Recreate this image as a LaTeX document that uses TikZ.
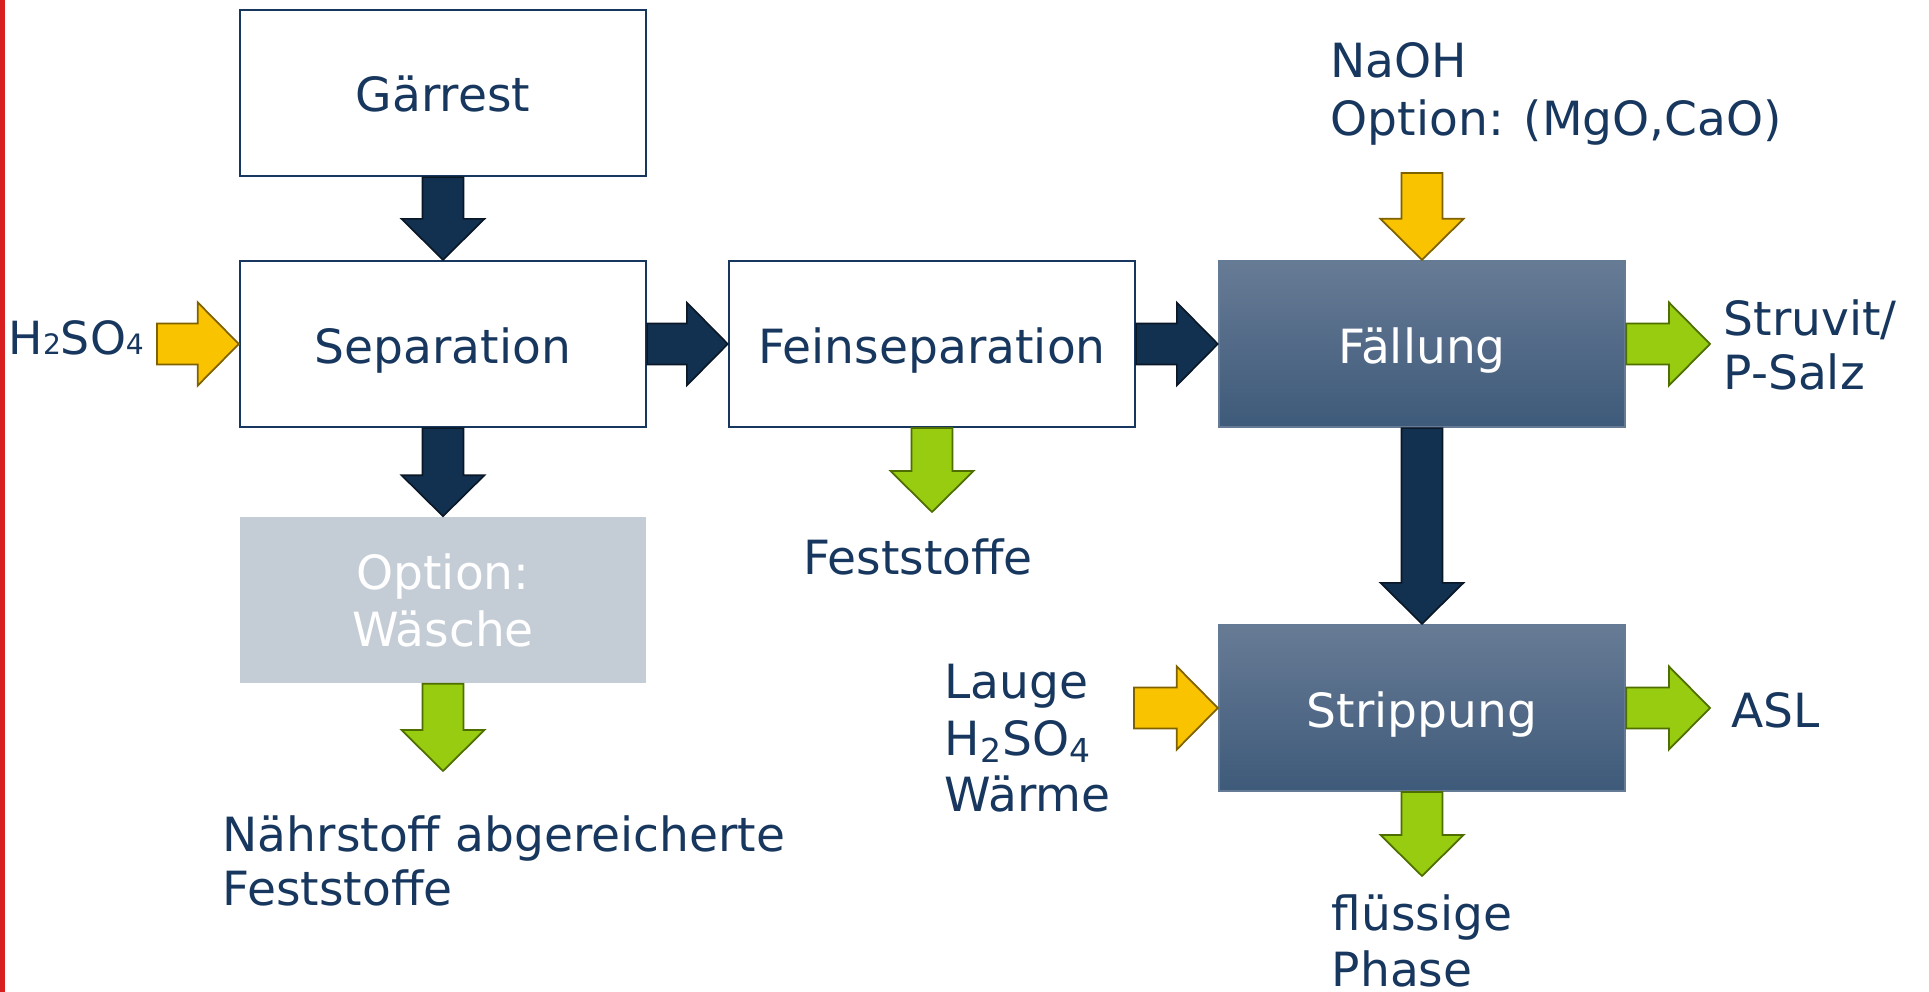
\documentclass[tikz,border=0pt]{standalone}
\usepackage{fontspec}
\setmainfont{DejaVu Sans}
\usetikzlibrary{calc}
\definecolor{navy}{HTML}{17375E}
\definecolor{arrdark}{HTML}{12304F}
\definecolor{arrdarkline}{HTML}{0A1726}
\definecolor{arryellow}{HTML}{F9C300}
\definecolor{arryellowline}{HTML}{7F6200}
\definecolor{arrgreen}{HTML}{97CC10}
\definecolor{arrgreenline}{HTML}{4F6E00}
\definecolor{stagetop}{HTML}{677B95}
\definecolor{stagebot}{HTML}{3E5A7A}
\definecolor{optgray}{HTML}{C4CCD6}
\definecolor{sidered}{HTML}{D71F1F}
\tikzset{
  flow/.style={to path={
    ($(\tikztotarget)!0.41cm!(\tikztostart)$) coordinate (ah)
    ($(\tikztostart)!0.205cm!90:(\tikztotarget)$) -- ($(ah)!0.205cm!90:(\tikztotarget)$)
    -- ($(ah)!0.415cm!90:(\tikztotarget)$) -- (\tikztotarget)
    -- ($(ah)!0.415cm!-90:(\tikztotarget)$) -- ($(ah)!0.205cm!-90:(\tikztotarget)$)
    -- ($(\tikztostart)!0.205cm!-90:(\tikztotarget)$) -- cycle}}
}
\begin{document}
\begin{tikzpicture}[x=0.01cm,y=-0.01cm,
  every node/.style={font=\fontsize{13.4}{16.2}\selectfont, text=navy},
  stepsize/.style={minimum width=4.06cm, minimum height=1.66cm, inner sep=0},
  box/.style={stepsize, draw=navy, line width=0.6pt, fill=white, text height=0.5cm, text depth=0.12cm},
  stage/.style={box, draw=stagebot!80!white, top color=stagetop, bottom color=stagebot, text=white},
  optbox/.style={stepsize, fill=optgray, text=white, align=center},
  lbl/.style={anchor=base west, align=left, inner sep=0},
  darkarrow/.style={fill=arrdark, draw=arrdarkline, line width=0.45pt},
  yellowarrow/.style={fill=arryellow, draw=arryellowline, line width=0.5pt},
  greenarrow/.style={fill=arrgreen, draw=arrgreenline, line width=0.5pt}]
  \useasboundingbox (0,0) rectangle (1929,992);
  \fill[sidered] (0,0) rectangle (5,992);

  % process steps
  \node[box] (gaer) at (443,93) {Gärrest};
  \node[box] (sep) at (443,344) {Separation};
  \node[box] (fein) at (932,344) {Feinseparation};
  \node[stage] (fall) at (1422,344) {Fällung};
  \node[optbox] (wash) at (443,600) {Option:\\Wäsche};
  \node[stage] (strip) at (1422,708) {Strippung};

  % inputs and outputs (base = last line)
  \node[lbl, font=\fontsize{13}{15}\selectfont] (acid) at (8,355) {H{\fontsize{8}{9}\selectfont 2}SO{\fontsize{8}{9}\selectfont 4}};
  \node[lbl, font=\fontsize{13.4}{16.6}\selectfont] (naoh) at (1330,136) {NaOH\\Option: (MgO,CaO)};
  \node[lbl] (lauge) at (944,812) {Lauge\\H\textsubscript{2}SO\textsubscript{4}\\Wärme};
  \node[anchor=base, inner sep=0] (solids) at (918,575) {Feststoffe};
  \node[lbl, font=\fontsize{13.4}{15.6}\selectfont] (lean) at (222,906) {Nährstoff abgereicherte\\Feststoffe};
  \node[lbl, font=\fontsize{13.4}{15.6}\selectfont] (struvit) at (1723,390) {Struvit/\\P-Salz};
  \node[lbl] (asl) at (1731,728) {ASL};
  \node[lbl, font=\fontsize{13.4}{16.2}\selectfont] (liquid) at (1331,987) {flüssige\\Phase};

  \coordinate (inH) at (157,344);
  \coordinate (inNa) at (1422,173);
  \coordinate (inLa) at (1134,708);
  \coordinate (outW) at (443,771);
  \coordinate (outF) at (932,512);
  \coordinate (outS) at (1710,344);
  \coordinate (outA) at (1710,708);
  \coordinate (outP) at (1422,876);

  \foreach \a/\b in {gaer.south/sep.north,sep.south/wash.north,sep.east/fein.west,fein.east/fall.west,fall.south/strip.north}
    \draw[darkarrow] (\a) to[flow] (\b);
  \foreach \a/\b in {inH/sep.west,inNa/fall.north,inLa/strip.west}
    \draw[yellowarrow] (\a) to[flow] (\b);
  \foreach \a/\b in {wash.south/outW,fein.south/outF,fall.east/outS,strip.east/outA,strip.south/outP}
    \draw[greenarrow] (\a) to[flow] (\b);
\end{tikzpicture}
\end{document}
